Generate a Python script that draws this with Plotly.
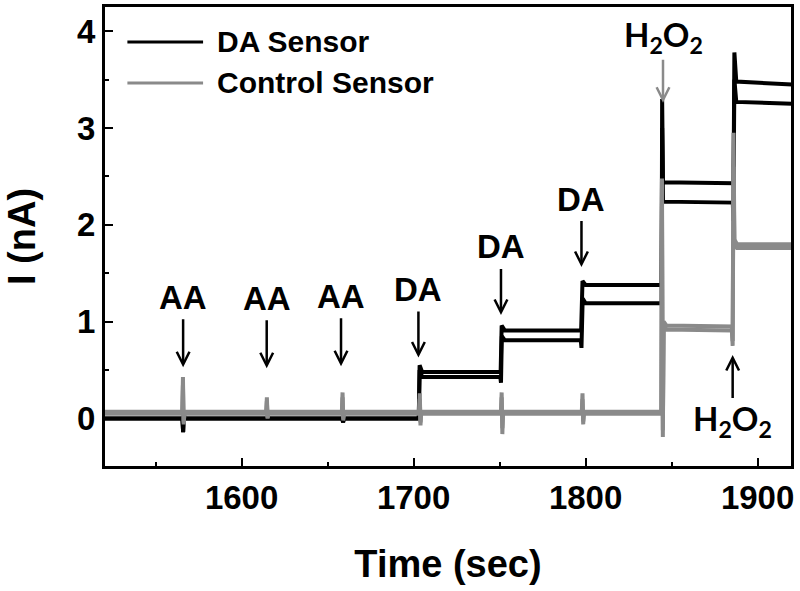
import plotly.graph_objects as go

# ---------------- data ----------------
# DA sensor, electrode 1 (upper black trace)
da1_t = [1520, 1565.6, 1566.0, 1566.4, 1567.0, 1658.6, 1659.0, 1659.4, 1703.0, 1703.5, 1705.0,
         1750.6, 1751.2, 1753.0, 1797.4, 1798.2, 1800.0, 1844.2, 1844.5, 1845.0, 1886.0, 1886.5, 1887.6, 1920]
da1_i = [0.00, 0.00, -0.14, 0.04, 0.00, 0.00, -0.04, 0.00, 0.00, 0.55, 0.48,
         0.48, 0.96, 0.91, 0.91, 1.42, 1.38, 1.38, 3.30, 2.44, 2.43, 3.78, 3.48, 3.45]

# DA sensor, electrode 2 (lower black trace)
da2_t = [1520, 1565.6, 1566.0, 1566.4, 1567.0, 1658.6, 1659.0, 1659.4, 1703.0, 1703.5, 1705.0,
         1750.4, 1750.8, 1751.3, 1753.0, 1797.2, 1797.6, 1798.3, 1800.0, 1844.2, 1844.5, 1845.0,
         1885.6, 1885.9, 1886.5, 1887.6, 1920]
da2_i = [0.00, 0.00, -0.14, 0.04, 0.00, 0.00, -0.04, 0.00, 0.00, 0.50, 0.43,
         0.43, 0.37, 0.85, 0.81, 0.81, 0.73, 1.24, 1.19, 1.19, 3.00, 2.24,
         2.23, 2.04, 3.50, 3.27, 3.25]

# Control sensor, electrode 1 (gray)
ctl1_t = [1520, 1565.5, 1565.9, 1566.3, 1566.8, 1614.3, 1614.7, 1615.1, 1615.5, 1658.3, 1658.7, 1659.1, 1659.5,
          1703.2, 1703.6, 1704.0, 1704.4, 1750.8, 1751.2, 1751.6, 1752.0, 1797.8, 1798.2, 1798.6, 1799.0,
          1844.0, 1844.4, 1844.9, 1845.4, 1847.0, 1885.0, 1885.5, 1886.0, 1886.5, 1888.0, 1920]
ctl1_i = [0.07, 0.07, 0.43, -0.06, 0.07, 0.07, 0.22, 0.00, 0.07, 0.07, 0.27, -0.02, 0.07,
          0.07, 0.26, -0.07, 0.07, 0.07, 0.27, -0.16, 0.07, 0.07, 0.26, -0.06, 0.07,
          0.07, 2.48, -0.19, 1.00, 0.96, 0.95, 0.75, 2.95, 1.85, 1.80, 1.80]

# Control sensor, electrode 2 (gray)
ctl2_t = [1520, 1565.5, 1565.9, 1566.3, 1566.8, 1614.3, 1614.7, 1615.1, 1615.5, 1658.3, 1658.7, 1659.1, 1659.5,
          1703.2, 1703.6, 1704.0, 1704.4, 1750.8, 1751.2, 1751.6, 1752.0, 1797.8, 1798.2, 1798.6, 1799.0,
          1844.0, 1844.4, 1844.9, 1845.4, 1847.0, 1885.0, 1885.5, 1886.0, 1886.5, 1888.0, 1920]
ctl2_i = [0.05, 0.05, 0.35, -0.04, 0.05, 0.05, 0.18, 0.01, 0.05, 0.05, 0.22, 0.00, 0.05,
          0.05, 0.20, -0.04, 0.05, 0.05, 0.22, -0.10, 0.05, 0.05, 0.20, -0.03, 0.05,
          0.05, 2.20, -0.12, 0.96, 0.92, 0.91, 0.80, 2.60, 1.80, 1.76, 1.76]

# injection markers: time of arrow, current at arrow tip
aa_t = [1566.0, 1614.6, 1657.8]
aa_tip = [0.53, 0.52, 0.54]
da_t = [1702.8, 1750.8, 1797.6]
da_tip = [0.63, 1.07, 1.565]
h2o2_t = [1845.0, 1885.5]
h2o2_tip = [3.26, 0.657]

x_ticks = [1600, 1700, 1800, 1900]
y_ticks = [0, 1, 2, 3, 4]

legend_names = ["DA Sensor", "Control Sensor"]

BLACK = "#000000"
GRAY = "#8a8a8a"
FONT = "Liberation Sans, Arial, sans-serif"

fig = go.Figure()
fig.add_trace(go.Scatter(x=da1_t, y=da1_i, mode="lines", line=dict(color=BLACK, width=4),
                         name=legend_names[0], showlegend=False))
fig.add_trace(go.Scatter(x=da2_t, y=da2_i, mode="lines", line=dict(color=BLACK, width=4),
                         name=legend_names[0], showlegend=False))
fig.add_trace(go.Scatter(x=ctl2_t, y=ctl2_i, mode="lines", line=dict(color=GRAY, width=4),
                         name=legend_names[1], showlegend=False))
fig.add_trace(go.Scatter(x=ctl1_t, y=ctl1_i, mode="lines", line=dict(color=GRAY, width=4),
                         name=legend_names[1], showlegend=False))

annotations = []
label_font = dict(family=FONT, size=33, color="black", weight="bold")
h_font = dict(family="Lato, " + FONT, size=33, color="black", weight="bold")


def marker(x, tip, text, ay, font, color="black", sstand=3):
    # label sits at the arrow tail, arrow points at (x, tip)
    annotations.append(dict(x=x, y=tip, xref="x", yref="y", text=text, showarrow=True,
                            ax=0, ay=ay, arrowhead=5, arrowsize=1.0, arrowwidth=2.5,
                            arrowcolor=color, standoff=0, startstandoff=sstand,
                            font=font, borderpad=0))


for t, tip in zip(aa_t, aa_tip):
    marker(t, tip, "AA", -70, label_font)
for t, tip in zip(da_t, da_tip):
    marker(t, tip, "DA", -68, label_font)

marker(h2o2_t[0], h2o2_tip[0], "H<sub>2</sub>O<sub>2</sub>", -66, h_font, color=GRAY, sstand=0)
marker(h2o2_t[1], h2o2_tip[1], "H<sub>2</sub>O<sub>2</sub>", 66, h_font, sstand=0)

# manual legend (paper coordinates)
shapes = []
leg_rows = [(0.922, BLACK), (0.833, GRAY)]
for (yy, col), name in zip(leg_rows, legend_names):
    shapes.append(dict(type="line", xref="paper", yref="paper", x0=0.034, x1=0.144, y0=yy, y1=yy,
                       line=dict(color=col, width=3)))
    annotations.append(dict(x=0.161, y=yy, xref="paper", yref="paper", text=name, showarrow=False,
                            xanchor="left", yanchor="middle",
                            font=dict(family=FONT, size=30, color="black", weight="bold")))

# plot frame
shapes.append(dict(type="rect", xref="paper", yref="paper", x0=0, x1=1, y0=0, y1=1,
                   line=dict(color="black", width=2), fillcolor="rgba(0,0,0,0)", layer="above"))

axis_common = dict(showline=True, linewidth=2, linecolor="black", mirror=True, showgrid=False,
                   zeroline=False, ticks="inside", ticklen=9, tickwidth=2, tickcolor="black",
                   tickfont=dict(family=FONT, size=33, color="black", weight="bold"))

fig.update_layout(
    width=800, height=591,
    margin=dict(l=104, r=8, t=6, b=124),
    plot_bgcolor="white", paper_bgcolor="white",
    showlegend=False,
    annotations=annotations, shapes=shapes,
    xaxis=dict(range=[1520, 1920], tickvals=x_ticks, ticktext=[str(v) for v in x_ticks],
               minor=dict(ticks="inside", dtick=50, tick0=1500, ticklen=5, tickwidth=2, tickcolor="black"),
               title=dict(text="Time (sec)", standoff=36,
                          font=dict(family=FONT, size=38, color="black", weight="bold")),
               automargin=False,
               **axis_common),
    yaxis=dict(range=[-0.5, 4.26], tickvals=y_ticks, ticktext=[str(v) for v in y_ticks],
               minor=dict(ticks="inside", dtick=0.5, tick0=0, ticklen=5, tickwidth=2, tickcolor="black"),
               title=dict(text="I (nA)", standoff=30,
                          font=dict(family=FONT, size=38, color="black", weight="bold")),
               automargin=False,
               **axis_common),
)

fig.write_html("out.html", config={"displayModeBar": False},
               post_script="document.body.style.margin='0';")
